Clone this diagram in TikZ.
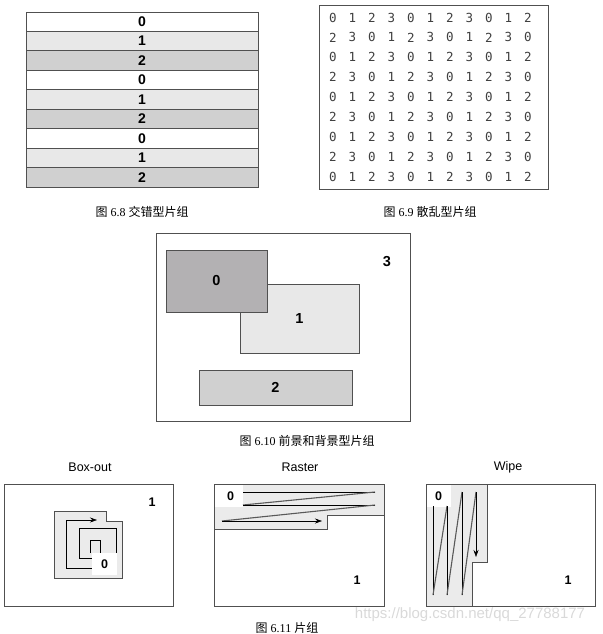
\documentclass[tikz,border=0pt]{standalone}
\usepackage{fontspec}
\setmainfont{Liberation Serif}
\setsansfont{Liberation Sans}
\newfontfamily\cjk{Noto Sans CJK SC}
\newfontfamily\monodigit{DejaVu Sans Mono}
\usetikzlibrary{
    positioning,
    arrows.meta
}
\definecolor{rowfill0}{HTML}{FFFFFF}
\definecolor{rowfill1}{HTML}{E8E8E8}
\definecolor{rowfill2}{HTML}{D0D0D0}
\definecolor{tiledark}{HTML}{B3B1B3}
\definecolor{edgegray}{HTML}{505050}
\definecolor{fadegray}{HTML}{EBEBEB}
\newcommand{\figcap}[2]{{\cjk 图}\ #1\ {\cjk #2}}
\tikzset{
    >=Stealth,
    frame/.style={draw=edgegray, line width=0.9pt},
    rowbox/.style={frame, inner sep=0pt, minimum width=232pt,
        minimum height=19.444pt, font=\sffamily\bfseries\fontsize{14}{14}\selectfont},
    tile/.style={frame, inner sep=0pt, font=\sffamily\bfseries\fontsize{14.5}{14.5}\selectfont},
    bignum/.style={font=\sffamily\bfseries\fontsize{14.5}{14.5}\selectfont},
    smallnum/.style={font=\sffamily\bfseries\fontsize{12.5}{12.5}\selectfont},
    gridnum/.style={font=\monodigit\fontsize{12.5}{12.5}\selectfont, text=black!75},
    caption/.style={font=\fontsize{12}{12}\selectfont},
    paneltitle/.style={font=\sffamily\fontsize{12.5}{12.5}\selectfont},
    patch/.style={fill=fadegray, draw=edgegray, line width=0.6pt},
    hole/.style={fill=white, inner sep=0pt},
    scanline/.style={draw=black, line width=0.6pt},
    retrace/.style={draw=black!65, line width=1.1pt},
    tip/.style={-{Stealth[length=7pt,width=5pt]}}
}
\begin{document}
\begin{tikzpicture}[x=1pt, y=-1pt]
    \useasboundingbox (0,0) rectangle (602,634);

    % Figura 6.8
    \foreach \i in {0,...,8} {
        \pgfmathtruncatemacro\lab{mod(\i,3)}
        \node[rowbox, fill=rowfill\lab] (row\i) at (142,{21.72+19.444*\i}) {\lab};
    }
    \node[caption] (cap68) at (142,212) {\figcap{6.8}{交错型片组}};

    % Figura 6.9
    \node[frame, inner sep=0pt, minimum width=229pt, minimum height=184pt]
        (grid69) at (433.5,97) {};
    \foreach \r in {0,...,8} {
        \foreach \c in {0,...,10} {
            \pgfmathtruncatemacro\val{mod(\c+2*mod(\r,2),4)}
            \node[gridnum] (g\r-\c) at ({333+19.5*\c},{17.5+19.875*\r}) {\val};
        }
    }
    \node[caption] (cap69) at (430,212) {\figcap{6.9}{散乱型片组}};

    % Figura 6.10
    \node[frame, inner sep=0pt, minimum width=254pt, minimum height=188pt]
        (scene) at (283,327) {};
    \node[tile, fill=rowfill1, minimum width=119pt, minimum height=69pt]
        (layer1) at (299.5,318.5) {1};
    \node[tile, fill=tiledark, minimum width=101pt, minimum height=62pt]
        (layer0) at (216.5,281) {0};
    \node[tile, fill=rowfill2, minimum width=153pt, minimum height=35pt]
        (layer2) at (275.5,387.5) {2};
    \node[bignum] (layer3) at (387,262) {3};
    \node[caption] (cap610) at (307,441) {\figcap{6.10}{前景和背景型片组}};

    % Figura 6.11: Box-out
    \node[paneltitle] (ttlbox) at (90,467) {Box-out};
    \node[frame, inner sep=0pt, minimum width=169pt, minimum height=122pt]
        (boxout) at (88.5,545) {};
    \draw[patch] (54,511) -- (106,511) -- (106,521) -- (122,521)
        -- (122,578) -- (54,578) -- cycle;
    \draw[scanline, tip] (90,553) -- (90,540) -- (100,540) -- (100,558)
        -- (79,558) -- (79,528) -- (116,528) -- (116,568) -- (66,568)
        -- (66,520) -- (97,520);
    \node[hole, smallnum, minimum width=25pt, minimum height=22pt]
        (boxnew) at (104.5,564) {0};
    \node[smallnum] (boxold) at (152,502) {1};

    % Figura 6.11: Raster
    \node[paneltitle] (ttlraster) at (300,467) {Raster};
    \draw[patch, draw=none] (214,484) -- (384,484) -- (384,515) -- (327,515)
        -- (327,529) -- (214,529) -- cycle;
    \draw[edgegray, line width=0.6pt] (384,515) -- (327,515) -- (327,529) -- (214,529);
    \node[frame, inner sep=0pt, minimum width=170pt, minimum height=122pt]
        (raster) at (299,545) {};
    \node[hole, smallnum, minimum width=28pt, minimum height=22pt, anchor=north west]
        (rasternew) at (214.5,484.5) {\hspace{4pt}0};
    \draw[scanline] (243,492) -- (375,492);
    \draw[retrace] (375,492) -- (243,505);
    \draw[scanline] (243,505) -- (375,505);
    \draw[retrace] (375,505) -- (222,521);
    \draw[scanline, tip] (222,521) -- (322,521);
    \node[smallnum] (rasterold) at (357,580) {1};

    % Figura 6.11: Wipe
    \node[paneltitle] (ttlwipe) at (508,467) {Wipe};
    \draw[patch, draw=none] (426,484) -- (487,484) -- (487,562) -- (472,562)
        -- (472,606) -- (426,606) -- cycle;
    \draw[edgegray, line width=0.6pt] (487,484) -- (487,562) -- (472,562) -- (472,606);
    \node[frame, inner sep=0pt, minimum width=169pt, minimum height=122pt]
        (wipe) at (510.5,545) {};
    \node[hole, smallnum, minimum width=24pt, minimum height=22pt, anchor=north west]
        (wipenew) at (426.5,484.5) {0};
    \draw[scanline] (433,506) -- (433,595);
    \draw[retrace] (433,595) -- (447,506);
    \draw[scanline] (447,506) -- (447,595);
    \draw[retrace] (447,595) -- (462,492);
    \draw[scanline] (462,492) -- (462,595);
    \draw[retrace] (462,595) -- (476,492);
    \draw[scanline, tip] (476,492) -- (476,557);
    \node[smallnum] (wipeold) at (568,580) {1};

    \node[caption] (cap611) at (287,628) {\figcap{6.11}{片组}};
    \node[font=\sffamily\fontsize{15}{15}\selectfont, text=black!15]
        (mark) at (470,615) {https://blog.csdn.net/qq\_27788177};

\end{tikzpicture}
\end{document}
